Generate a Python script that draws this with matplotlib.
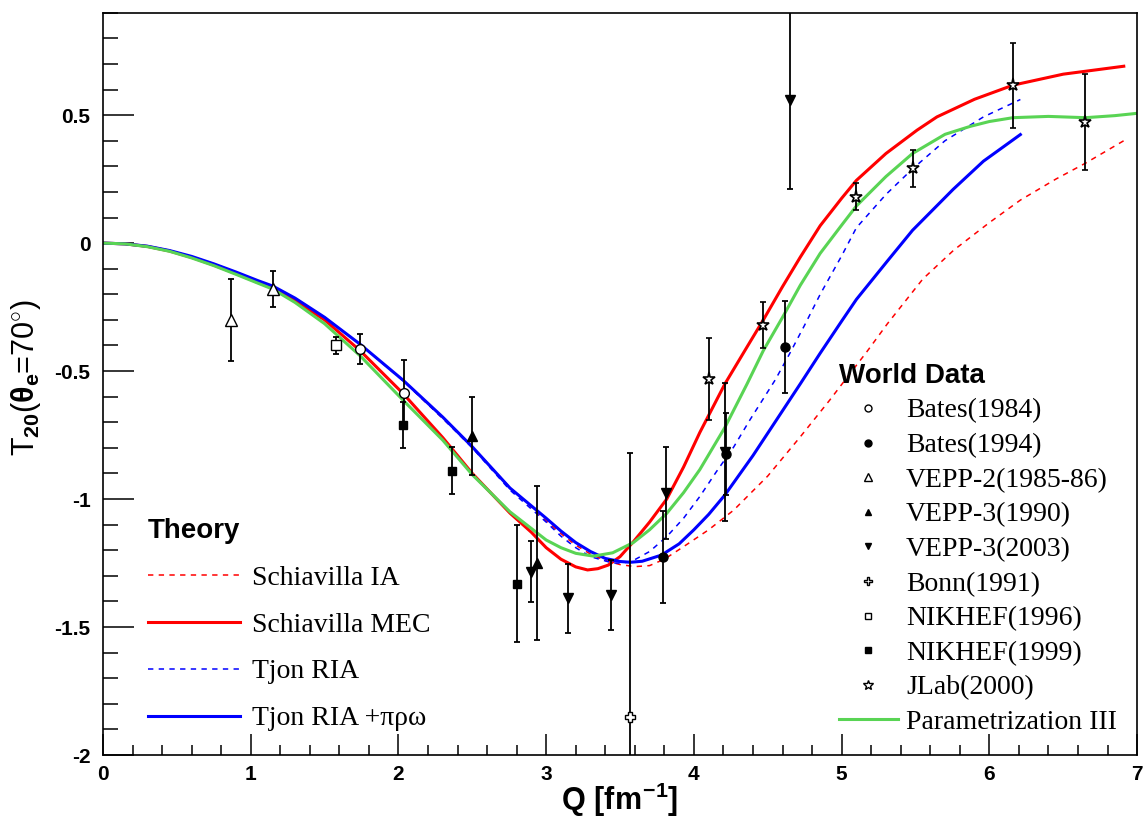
import numpy as np
import matplotlib
matplotlib.use('Agg')
import matplotlib.pyplot as plt
from matplotlib.lines import Line2D
from matplotlib.ticker import MultipleLocator, FuncFormatter
from matplotlib.font_manager import FontProperties

plt.rcParams['font.family'] = ['Liberation Sans', 'DejaVu Sans']
plt.rcParams['font.weight'] = 'bold'
plt.rcParams['mathtext.fontset'] = 'custom'
plt.rcParams['mathtext.rm'] = 'Liberation Sans:bold'
plt.rcParams['mathtext.bf'] = 'Liberation Sans:bold'
plt.rcParams['mathtext.it'] = 'Liberation Sans:bold'
plt.rcParams['axes.unicode_minus'] = False

# ---- world data: Q [fm^-1], T20, error ----
bates84_q = [1.74, 2.04]
bates84_t = [-0.414, -0.586]
bates84_e = [0.06, 0.13]

bates94_q = [3.79, 4.22, 4.62]
bates94_t = [-1.225, -0.825, -0.407]
bates94_e = [0.18, 0.16, 0.18]

vepp2_q = [0.867, 1.15]
vepp2_t = [-0.30, -0.18]
vepp2_e = [0.16, 0.07]

vepp3a_q = [2.50, 2.94]
vepp3a_t = [-0.754, -1.25]
vepp3a_e = [0.153, 0.30]

vepp3b_q = [2.90, 3.15, 3.44, 3.81, 4.21, 4.65]
vepp3b_t = [-1.284, -1.387, -1.375, -0.975, -0.815, 0.561]
vepp3b_e = [0.12, 0.135, 0.135, 0.18, 0.27, 0.35]

bonn_q = [3.57]
bonn_t = [-1.852]
bonn_e = [1.03]

nikhef96_q = [1.58]
nikhef96_t = [-0.40]
nikhef96_e = [0.035]

nikhef99_q = [2.03, 2.36, 2.80]
nikhef99_t = [-0.71, -0.89, -1.33]
nikhef99_e = [0.09, 0.092, 0.23]

jlab_q = [4.10, 4.47, 5.10, 5.48, 6.16, 6.65]
jlab_t = [-0.531, -0.32, 0.181, 0.293, 0.617, 0.474]
jlab_e = [0.162, 0.09, 0.052, 0.072, 0.166, 0.188]

# ---- theory curves ----
low_q = [0, 0.15, 0.3, 0.45, 0.6, 0.75, 0.9, 1.05, 1.15, 1.3]

ia_q = low_q + [1.5, 1.74, 2.03, 2.3, 2.5, 2.755, 3.0, 3.1, 3.2, 3.3, 3.4, 3.5, 3.6, 3.7,
                3.8, 3.93, 4.1, 4.27, 4.5, 4.72, 4.92, 5.03, 5.17, 5.31, 5.55, 5.76, 6.0,
                6.21, 6.45, 6.65, 6.91]
ia_t = [0, -0.003, -0.013, -0.03, -0.054, -0.084, -0.116, -0.15, -0.172, -0.22,
        -0.29, -0.395, -0.537, -0.685, -0.795, -0.955, -1.085, -1.135, -1.18, -1.215,
        -1.24, -1.256, -1.264, -1.26, -1.235, -1.186, -1.12, -1.043, -0.91, -0.757,
        -0.613, -0.53, -0.425, -0.315, -0.14, -0.027, 0.08, 0.168, 0.25, 0.312, 0.40]

mec_q = low_q + [1.5, 1.74, 2.03, 2.3, 2.5, 2.755, 2.9, 3.0, 3.1, 3.2, 3.28, 3.35, 3.42,
                 3.5, 3.59, 3.7, 3.816, 3.93, 4.04, 4.21, 4.35, 4.47, 4.6, 4.72, 4.855,
                 5.0, 5.1, 5.3, 5.51, 5.645, 5.9, 6.16, 6.5, 6.91]
mec_t = [0, -0.003, -0.013, -0.031, -0.056, -0.086, -0.119, -0.154, -0.176, -0.226,
         -0.30, -0.42, -0.587, -0.76, -0.90, -1.055, -1.13, -1.19, -1.235, -1.265, -1.277,
         -1.272, -1.258, -1.225, -1.167, -1.09, -1.0, -0.875, -0.74, -0.55, -0.415, -0.30,
         -0.17, -0.055, 0.068, 0.175, 0.245, 0.35, 0.441, 0.493, 0.562, 0.617, 0.66, 0.691]

ria_q = low_q + [1.5, 1.74, 2.03, 2.3, 2.5, 2.755, 3.0, 3.1, 3.2, 3.3, 3.45, 3.52, 3.59,
                 3.7, 3.816, 3.93, 4.04, 4.15, 4.27, 4.38, 4.55, 4.65, 4.75, 4.855, 5.0,
                 5.1, 5.3, 5.48, 5.7, 5.96, 6.21]
ria_t = [0, -0.003, -0.012, -0.029, -0.052, -0.081, -0.113, -0.147, -0.168, -0.215,
         -0.29, -0.395, -0.537, -0.685, -0.80, -0.965, -1.09, -1.145, -1.19, -1.225,
         -1.25, -1.25, -1.24, -1.205, -1.147, -1.075, -0.99, -0.895, -0.796, -0.69,
         -0.535, -0.43, -0.32, -0.20, -0.05, 0.06, 0.19, 0.29, 0.40, 0.493, 0.561]

riam_q = low_q + [1.5, 1.74, 2.03, 2.3, 2.5, 2.755, 3.0, 3.1, 3.2, 3.3, 3.4, 3.5, 3.57,
                  3.65, 3.78, 3.9, 4.0, 4.1, 4.21, 4.4, 4.56, 4.72, 4.855, 5.0, 5.1, 5.31,
                  5.48, 5.755, 5.96, 6.21]
riam_t = [0, -0.003, -0.012, -0.029, -0.052, -0.081, -0.113, -0.147, -0.168, -0.215,
          -0.29, -0.395, -0.535, -0.68, -0.796, -0.957, -1.075, -1.125, -1.17, -1.205,
          -1.232, -1.244, -1.247, -1.243, -1.219, -1.175, -1.12, -1.06, -0.984, -0.83,
          -0.69, -0.55, -0.43, -0.305, -0.22, -0.07, 0.05, 0.21, 0.32, 0.424]

par_q = low_q + [1.5, 1.74, 2.03, 2.3, 2.5, 2.755, 3.0, 3.1, 3.2, 3.32, 3.45, 3.59, 3.7,
                 3.816, 3.93, 4.04, 4.21, 4.36, 4.47, 4.6, 4.72, 4.855, 5.0, 5.1, 5.3,
                 5.48, 5.7, 5.87, 6.0, 6.16, 6.4, 6.65, 6.85, 7.0]
par_t = [0, -0.003, -0.014, -0.032, -0.058, -0.088, -0.122, -0.157, -0.18, -0.232,
         -0.315, -0.44, -0.613, -0.77, -0.905, -1.05, -1.16, -1.19, -1.212, -1.223,
         -1.21, -1.17, -1.12, -1.056, -0.975, -0.885, -0.72, -0.55, -0.42, -0.29, -0.165,
         -0.04, 0.07, 0.145, 0.26, 0.35, 0.425, 0.456, 0.475, 0.49, 0.495, 0.49, 0.498, 0.507]

green = '#59d454'

fig = plt.figure(figsize=(11.46, 8.22), dpi=100)
ax = fig.add_axes([0.0899, 0.0815, 0.9023, 0.903])

ax.plot(ia_q, ia_t, color='red', lw=1.1, dashes=(3.5, 3.5))
ax.plot(mec_q, mec_t, color='red', lw=2.2)
ax.plot(ria_q, ria_t, color='blue', lw=1.1, dashes=(3.5, 3.5))
ax.plot(riam_q, riam_t, color='blue', lw=2.2)
ax.plot(par_q, par_t, color=green, lw=2.2)

eb = dict(color='black', ls='none', elinewidth=1.3, capsize=2.5, capthick=1.3, zorder=5)
ax.errorbar(bates84_q, bates84_t, yerr=bates84_e, marker='o', ms=7, mfc='white', mec='k', **eb)
ax.errorbar(bates94_q, bates94_t, yerr=bates94_e, marker='o', ms=6.5, mfc='k', mec='k', **eb)
ax.errorbar(vepp2_q, vepp2_t, yerr=vepp2_e, marker='^', ms=8, mfc='white', mec='k', **eb)
ax.errorbar(vepp3a_q, vepp3a_t, yerr=vepp3a_e, marker='^', ms=7, mfc='k', mec='k', **eb)
ax.errorbar(vepp3b_q, vepp3b_t, yerr=vepp3b_e, marker='v', ms=7, mfc='k', mec='k', **eb)
ax.errorbar(bonn_q, bonn_t, yerr=bonn_e, marker='P', ms=7.5, mfc='white', mec='k', **eb)
ax.errorbar(nikhef96_q, nikhef96_t, yerr=nikhef96_e, marker='s', ms=6.5, mfc='white', mec='k', **eb)
ax.errorbar(nikhef99_q, nikhef99_t, yerr=nikhef99_e, marker='s', ms=6, mfc='k', mec='k', **eb)
ax.errorbar(jlab_q, jlab_t, yerr=jlab_e, marker='*', ms=9.5, mfc='white', mec='k', mew=1.2, **eb)

ax.set_xlim(0, 7)
ax.set_ylim(-2, 0.9)
ax.xaxis.set_major_locator(MultipleLocator(1))
ax.xaxis.set_minor_locator(MultipleLocator(0.2))
ax.yaxis.set_major_locator(MultipleLocator(0.5))
ax.yaxis.set_minor_locator(MultipleLocator(0.1))
ax.xaxis.set_major_formatter(FuncFormatter(lambda v, p: '%g' % v))
ax.yaxis.set_major_formatter(FuncFormatter(lambda v, p: '%g' % v))
ax.tick_params(axis='y', which='major', direction='in', length=22, width=1.1, labelsize=15, pad=9)
ax.tick_params(axis='y', which='minor', direction='in', length=11, width=1.1)
ax.tick_params(axis='x', which='major', direction='in', length=15, width=1.1, labelsize=15, pad=7)
ax.tick_params(axis='x', which='minor', direction='in', length=7.5, width=1.1)
for s in ax.spines.values():
    s.set_linewidth(1.2)

ax.set_xlabel(r'$Q\ [fm^{-1}]$', fontsize=22)
ax.xaxis.set_label_coords(0.5, -0.035)
ax.set_ylabel(r'T$_{20}$($\theta_{e}$=70$^{\circ}$)', fontsize=22)
ax.yaxis.set_label_coords(-0.058, 0.508)

leg_font = FontProperties(family='Liberation Serif', size=20, weight='normal')
title_font = FontProperties(family='Liberation Sans', size=20, weight='bold')

theory = [
    Line2D([], [], color='red', lw=1.1, dashes=(3.5, 3.5)),
    Line2D([], [], color='red', lw=2.2),
    Line2D([], [], color='blue', lw=1.1, dashes=(3.5, 3.5)),
    Line2D([], [], color='blue', lw=2.2),
]
theory_labels = ['Schiavilla IA', 'Schiavilla MEC', 'Tjon RIA', 'Tjon RIA +πρω']
leg1 = ax.legend(theory, theory_labels, loc='upper left', bbox_to_anchor=(148 / 1146, 1 - 518 / 822),
                 bbox_transform=fig.transFigure, frameon=False, prop=leg_font,
                 title='Theory', title_fontproperties=title_font, alignment='left',
                 handlelength=3.3, handletextpad=0.43, labelspacing=0.77, borderpad=0, borderaxespad=0)
ax.add_artist(leg1)

world = [
    Line2D([], [], ls='none', marker='o', ms=5, mfc='white', mec='k', color='k'),
    Line2D([], [], ls='none', marker='o', ms=5, mfc='k', mec='k', color='k'),
    Line2D([], [], ls='none', marker='^', ms=5.5, mfc='white', mec='k', color='k'),
    Line2D([], [], ls='none', marker='^', ms=5, mfc='k', mec='k', color='k'),
    Line2D([], [], ls='none', marker='v', ms=5, mfc='k', mec='k', color='k'),
    Line2D([], [], ls='none', marker='P', ms=5.5, mfc='white', mec='k', color='k'),
    Line2D([], [], ls='none', marker='s', ms=5, mfc='white', mec='k', color='k'),
    Line2D([], [], ls='none', marker='s', ms=5, mfc='k', mec='k', color='k'),
    Line2D([], [], ls='none', marker='*', ms=7, mfc='white', mec='k', color='k'),
    Line2D([], [], color=green, lw=2.2),
]
world_labels = ['Bates(1984)', 'Bates(1994)', 'VEPP-2(1985-86)', 'VEPP-3(1990)', 'VEPP-3(2003)',
                'Bonn(1991)', 'NIKHEF(1996)', 'NIKHEF(1999)', 'JLab(2000)', 'Parametrization III']
leg2 = ax.legend(world, world_labels, loc='upper left', bbox_to_anchor=(839 / 1146, 1 - 363 / 822),
                 bbox_transform=fig.transFigure, frameon=False, prop=leg_font,
                 title='World Data', title_fontproperties=title_font, alignment='left',
                 handlelength=2.12, handletextpad=0.29, labelspacing=0.33, borderpad=0, borderaxespad=0)

fig.savefig('out.png', dpi=100)
